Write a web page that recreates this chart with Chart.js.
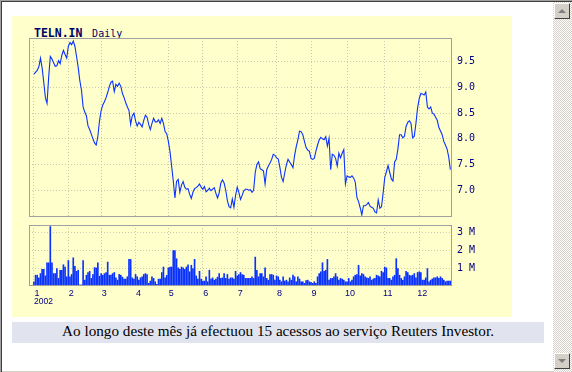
<!DOCTYPE html>
<html>
<head>
<meta charset="utf-8">
<script src="https://cdn.jsdelivr.net/npm/chart.js@4/dist/chart.umd.min.js"></script>
<style>
    html, body { margin: 0; padding: 0; background: #fff; }
    #frame { position: absolute; left: 0; top: 0; width: 572px; height: 372px; overflow: hidden; background: #fff; }
    .edge { position: absolute; }
    #panel { position: absolute; left: 12px; top: 16px; width: 500px; height: 301px; background: #ffffcc; }
    #title { position: absolute; left: 34px; top: 26px; line-height: 12px; color: #000066; font-family: 'DejaVu Sans Mono', monospace; white-space: nowrap; }
    #title b { font-size: 11.5px; }
    #title span { font-size: 10px; }
    #year { position: absolute; left: 34px; top: 296px; line-height: 10px; font: 8.5px 'Liberation Sans', sans-serif; color: #000080; }
    canvas { position: absolute; }
    #price { left: 19px; top: 27px; }
    #volume { left: 19px; top: 214px; }
    #caption { position: absolute; left: 12px; top: 322px; width: 532px; height: 21px; line-height: 21px; background: #e1e4ee; text-align: center; font: 15.2px 'Liberation Serif', serif; color: #000; white-space: nowrap; }
    #scroll { position: absolute; left: 553px; top: 2px; width: 19px; height: 370px;
        background: repeating-conic-gradient(#d4d0c8 0 25%, #ffffff 0 50%) 0 0 / 2px 2px; }
    .btn { position: absolute; left: 554px; width: 14px; height: 14px; background: #d4d0c8;
        border-top: 1px solid #fff; border-left: 1px solid #fff; border-right: 1px solid #404040; border-bottom: 1px solid #404040; }
    .arrow { position: absolute; left: 3px; width: 0; height: 0; border-left: 4px solid transparent; border-right: 4px solid transparent; }
    #up { top: 3px; }
    #up .arrow { top: 5px; border-bottom: 4px solid #808080; }
    #down { top: 353px; }
    #down .arrow { top: 5px; border-top: 4px solid #808080; }
</style>
</head>
<body>
<div id="frame">
    <div class="edge" style="left:0;top:0;width:572px;height:1px;background:#a0a0a0"></div>
    <div class="edge" style="left:0;top:0;width:1px;height:372px;background:#a0a0a0"></div>
    <div class="edge" style="left:1px;top:1px;width:571px;height:1px;background:#404040"></div>
    <div class="edge" style="left:1px;top:1px;width:1px;height:371px;background:#404040"></div>
    <div class="edge" style="left:2px;top:371px;width:570px;height:1px;background:#d4d0c8"></div>
    <div id="panel"></div>
    <div id="title"><b>TELN.IN</b> <span>Daily</span></div>
    <canvas id="price" width="493" height="201"></canvas>
    <canvas id="volume" width="493" height="90"></canvas>
    <div id="year">2002</div>
    <div id="caption">Ao longo deste mês já efectuou 15 acessos ao serviço Reuters Investor.</div>
    <div id="scroll"></div>
    <div class="btn" id="up"><div class="arrow"></div></div>
    <div class="btn" id="down"><div class="arrow"></div></div>
</div>
<script>
const monthLabels = ['1', '2', '3', '4', '5', '6', '7', '8', '9', '10', '11', '12'];
// trading-day index where each month starts
const monthStart = [0, 21, 41, 62, 82, 103, 124, 148, 169, 191, 214, 235];
const priceTicks = [7.0, 7.5, 8.0, 8.5, 9.0, 9.5];
const volumeTicks = [1, 2, 3];

// daily close
const price = [
    9.26, 9.29, 9.33, 9.40, 9.57, 9.38, 9.10, 8.80, 8.69, 9.20,
    9.60, 9.55, 9.48, 9.41, 9.42, 9.52, 9.46, 9.62, 9.72, 9.64,
    9.57, 9.80, 9.87, 9.83, 9.90, 9.80, 9.60, 9.39, 9.13, 8.95,
    8.62, 8.52, 8.45, 8.25, 8.18, 8.09, 8.00, 7.92, 7.88, 8.05,
    8.35, 8.55, 8.66, 8.72, 8.80, 8.90, 9.02, 9.10, 9.12, 8.92,
    9.06, 9.02, 9.08, 9.02, 8.88, 8.80, 8.70, 8.62, 8.55, 8.28,
    8.45, 8.50, 8.35, 8.25, 8.32, 8.28, 8.23, 8.36, 8.46, 8.42,
    8.28, 8.18, 8.30, 8.40, 8.33, 8.33, 8.37, 8.30, 8.40, 8.30,
    8.14, 8.10, 7.95, 7.75, 7.47, 7.18, 6.85, 7.17, 7.21, 6.96,
    7.10, 7.17, 7.06, 7.02, 7.03, 6.92, 6.84, 6.96, 7.03, 7.05,
    7.08, 7.12, 7.06, 7.02, 7.07, 6.97, 7.00, 7.04, 6.99, 7.02,
    7.05, 6.94, 6.85, 6.95, 7.14, 7.20, 7.14, 7.00, 6.80, 6.68,
    6.66, 6.83, 6.67, 6.90, 7.06, 6.96, 6.82, 6.90, 6.99, 7.02,
    7.02, 7.00, 7.01, 6.96, 7.00, 7.35, 7.50, 7.55, 7.42, 7.40,
    7.38, 7.12, 7.40, 7.47, 7.53, 7.60, 7.70, 7.68, 7.63, 7.61,
    7.45, 7.25, 7.17, 7.34, 7.50, 7.60, 7.55, 7.50, 7.44, 7.68,
    7.85, 7.98, 8.15, 8.14, 8.08, 7.95, 7.83, 7.78, 7.76, 7.62,
    7.60, 7.62, 7.76, 7.88, 7.98, 8.03, 8.00, 7.98, 8.04, 7.86,
    8.01, 7.40, 7.70, 7.68, 7.62, 7.47, 7.72, 7.63, 7.72, 7.79,
    7.12, 7.28, 7.26, 7.25, 7.28, 7.24, 7.16, 6.86, 6.78, 6.66,
    6.52, 6.70, 6.70, 6.72, 6.76, 6.69, 6.67, 6.65, 6.58, 6.56,
    6.81, 6.65, 6.68, 6.95, 7.25, 7.36, 7.48, 7.35, 7.22, 7.18,
    7.55, 7.60, 7.80, 8.08, 8.08, 8.02, 8.05, 8.24, 8.32, 8.35,
    8.30, 8.02, 8.05, 8.30, 8.60, 8.78, 8.88, 8.87, 8.85, 8.91,
    8.62, 8.58, 8.62, 8.50, 8.48, 8.42, 8.36, 8.22, 8.15, 8.08,
    7.95, 7.88, 7.80, 7.65, 7.40
];

// daily volume, millions of shares
const volume = [
    0.24, 0.61, 0.61, 0.46, 0.70, 0.94, 0.94, 0.57, 1.31, 1.31,
    3.35, 1.31, 0.70, 0.70, 0.98, 0.43, 0.89, 0.89, 1.20, 1.07,
    0.52, 1.44, 0.52, 0.65, 1.59, 1.11, 0.83, 0.89, 0.06, 0.06,
    1.44, 0.33, 0.61, 0.76, 0.83, 0.43, 0.65, 1.04, 1.02, 1.31,
    0.55,
    0.70, 0.61, 0.70, 0.76, 1.35, 0.61, 0.61, 0.70, 0.76, 0.46,
    0.33, 0.65, 0.61, 0.50, 0.39, 0.39, 0.52, 1.50, 1.50, 0.46,
    0.39, 0.65, 0.52, 0.33, 0.46, 0.52, 0.65, 0.70, 0.65, 0.15,
    0.28, 0.52, 0.43, 0.24, 0.09, 0.39, 0.39, 0.76, 1.07, 0.46,
    0.60,
    1.02, 1.07, 1.07, 2.00, 2.00, 1.54, 1.02, 0.94, 1.07, 1.02,
    0.94, 1.07, 1.20, 0.80, 1.17, 0.98, 1.50, 0.57, 0.39, 0.83,
    0.39, 0.28, 0.28, 0.52, 0.24, 0.89, 0.39, 0.46, 0.33, 0.39,
    0.50,
    0.70, 0.43, 0.46, 0.70, 0.43, 0.65, 0.39, 0.46, 0.46, 0.39,
    0.83, 0.57, 0.65,
    0.76, 0.65, 0.61, 0.43, 0.43, 0.43, 0.43, 0.52, 0.43, 1.63,
    0.89, 0.52, 0.70, 0.70, 0.52, 1.02, 0.43, 0.33, 0.65, 0.65,
    0.61, 0.33, 0.57, 0.52, 0.33, 0.24, 0.52, 0.28, 0.33, 0.24,
    0.46, 0.33, 0.61, 0.52, 0.24, 0.52, 0.39, 0.24, 0.24, 0.15,
    0.30,
    0.33, 0.24, 0.20, 0.15, 0.24, 0.15, 0.52, 0.70, 0.80, 1.31,
    0.83, 0.89, 1.50, 0.33, 0.43, 0.43, 0.52, 0.70, 0.52, 0.33,
    0.43, 0.39, 0.33, 0.24, 0.24, 0.43, 0.24, 0.33, 0.52, 0.61,
    0.65, 1.17, 0.57, 0.70, 0.65, 0.52, 0.46, 0.43, 0.52, 0.33,
    0.40,
    0.43, 0.61, 0.57, 0.52, 0.83, 0.76, 1.07, 1.02, 0.43, 0.43,
    0.33, 0.52, 0.61, 1.54, 0.98, 0.61, 0.43, 0.33, 0.52, 0.83,
    0.76, 0.61, 0.57, 0.61, 0.70, 0.46, 0.76, 0.80, 0.76, 0.33,
    0.33, 0.46, 0.98, 0.24, 0.33,
    0.40,
    0.46, 0.46, 0.52, 0.43, 0.52, 0.43, 0.33, 0.24, 0.28, 0.28, 0.28
];

const navy = '#000080';
const blue = '#0a32ff';
const dots = '#c9c9ad';

Chart.defaults.animation = false;
Chart.defaults.font.family = 'DejaVu Sans Mono';
Chart.defaults.font.size = 10;
Chart.defaults.color = navy;
Chart.defaults.plugins.legend.display = false;
Chart.defaults.plugins.tooltip.enabled = false;

// grey frame round the plot area
const box = {
    id: 'box',
    afterDraw(chart) {
        const { ctx, chartArea: a } = chart;
        ctx.save();
        ctx.strokeStyle = '#a0a0a0';
        ctx.lineWidth = 1;
        ctx.strokeRect(a.left + 0.5, a.top + 0.5, a.right - a.left - 1, a.bottom - a.top - 1);
        ctx.restore();
    }
};

const monthAxis = (showLabels) => ({
    type: 'linear',
    min: -3,
    max: 255,
    offset: false,
    afterBuildTicks: s => { s.ticks = monthStart.map(v => ({ value: v })); },
    afterFit: s => { s.height = showLabels ? 14 : 0; },
    grid: { color: dots, drawTicks: false, offset: false },
    border: { display: false, dash: [1, 2] },
    ticks: {
        display: showLabels,
        autoSkip: false,
        maxRotation: 0,
        padding: 2,
        labelOffset: 3,
        font: { family: 'Liberation Sans', size: 9 },
        callback: (v, i) => monthLabels[i]
    }
});

new Chart(document.getElementById('price'), {
    type: 'line',
    data: {
        datasets: [{
            data: price.map((v, i) => ({ x: i, y: v })),
            borderColor: blue,
            borderWidth: 1.1,
            pointRadius: 0,
            tension: 0
        }]
    },
    options: {
        responsive: false,
        layout: { padding: { left: 10, top: 10, bottom: 10, right: 0 } },
        scales: {
            x: monthAxis(false),
            y: {
                position: 'right',
                min: 6.48,
                max: 9.96,
                afterBuildTicks: s => { s.ticks = priceTicks.map(v => ({ value: v })); },
                afterFit: s => { s.width = 60; },
                grid: { color: dots, drawTicks: false },
                border: { display: false, dash: [1, 2] },
                ticks: { padding: 5, callback: v => v.toFixed(1) }
            }
        }
    },
    plugins: [box]
});

new Chart(document.getElementById('volume'), {
    type: 'bar',
    data: {
        datasets: [{
            data: volume.map((v, i) => ({ x: i, y: v })),
            backgroundColor: blue,
            barThickness: 1
        }]
    },
    options: {
        responsive: false,
        layout: { padding: { left: 10, top: 10, bottom: 4, right: 0 } },
        scales: {
            x: monthAxis(true),
            y: {
                position: 'right',
                min: 0,
                max: 3.44,
                afterBuildTicks: s => { s.ticks = volumeTicks.map(v => ({ value: v })); },
                afterFit: s => { s.width = 60; },
                grid: { color: dots, drawTicks: false },
                border: { display: false, dash: [1, 2] },
                ticks: { padding: 5, callback: v => v + ' M' }
            }
        }
    },
    plugins: [box]
});
</script>
</body>
</html>
